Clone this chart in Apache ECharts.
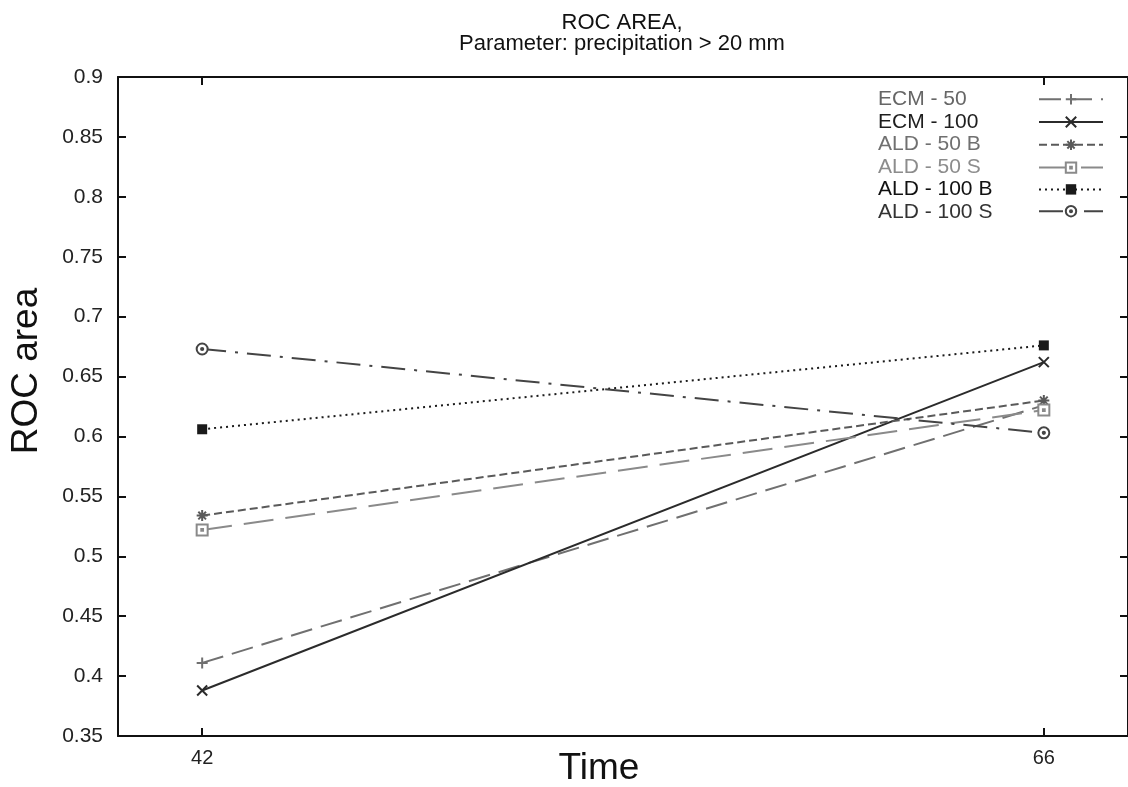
<!DOCTYPE html>
<html>
<head>
<meta charset="utf-8">
<script src="https://cdn.jsdelivr.net/npm/echarts@6/dist/echarts.min.js"></script>
<style>
  html, body { margin: 0; padding: 0; background: #fff; }
  #chart { width: 1128px; height: 787px; }
</style>
</head>
<body>
<div id="chart"></div>
<script>
// Forecast lead times (hours) and ROC area per configuration
const leadTimes = [42, 66];
const yTicks = { min: 0.35, max: 0.9, step: 0.05 };

const ecm50    = [0.411, 0.626];
const ecm100   = [0.388, 0.662];
const ald50B   = [0.534, 0.630];
const ald50S   = [0.522, 0.622];
const ald100B  = [0.606, 0.676];
const ald100S  = [0.673, 0.603];

const seriesNames = ['ECM - 50', 'ECM - 100', 'ALD - 50 B', 'ALD - 50 S', 'ALD - 100 B', 'ALD - 100 S'];
const seriesValues = [ecm50, ecm100, ald50B, ald50S, ald100B, ald100S];

const FONT = 'Liberation Sans, Arial, Helvetica, sans-serif';

// gnuplot-like point types
const SYM_PLUS = 'path://M5,0L5,10M0,5L10,5';
const SYM_CROSS = 'path://M0,0L10,10M10,0L0,10';
const SYM_STAR = 'path://M5,0L5,10M0,5L10,5M1.5,1.5L8.5,8.5M8.5,1.5L1.5,8.5';
const SYM_BOX_DOT = 'path://M0,0L10,0L10,10L0,10Z M4.2,4.2L5.8,4.2L5.8,5.8L4.2,5.8Z';
const SYM_CIRC_DOT = 'path://M10,5A5,5,0,1,1,0,5A5,5,0,1,1,10,5Z M6,5A1,1,0,1,1,4,5A1,1,0,1,1,6,5Z';

const styles = [
  { color: '#707070', text: '#666666', dash: [22, 9], symbol: SYM_PLUS, size: 11, fill: 'transparent' },
  { color: '#2b2b2b', text: '#1e1e1e', dash: 'solid', symbol: SYM_CROSS, size: 10, fill: 'transparent' },
  { color: '#5a5a5a', text: '#707070', dash: [8, 4], symbol: SYM_STAR, size: 11, fill: 'transparent' },
  { color: '#8a8a8a', text: '#8c8c8c', dash: [30, 12], symbol: SYM_BOX_DOT, size: 11, fill: '#ffffff' },
  { color: '#1a1a1a', text: '#111111', dash: [2, 4], symbol: 'rect', size: 10, fill: '#1a1a1a' },
  { color: '#444444', text: '#333333', dash: [24, 9, 3, 9], symbol: SYM_CIRC_DOT, size: 11, fill: '#ffffff' }
];

const series = seriesNames.map((name, i) => {
  const s = styles[i];
  return {
    name: name,
    type: 'line',
    xAxisIndex: 0,
    yAxisIndex: 0,
    data: leadTimes.map((t, k) => [t, seriesValues[i][k]]),
    symbol: s.symbol,
    symbolSize: s.size,
    showAllSymbol: true,
    lineStyle: { color: s.color, width: 2, type: s.dash },
    itemStyle: {
      color: s.fill,
      borderColor: s.color,
      borderWidth: s.symbol === 'rect' ? 0 : 2
    },
    emphasis: { disabled: true },
    animation: false,
    z: 3
  };
});

const axisLineStyle = { show: true, onZero: false, lineStyle: { color: '#111', width: 2 } };

const chart = echarts.init(document.getElementById('chart'), null, { renderer: 'canvas' });
chart.setOption({
  backgroundColor: '#ffffff',
  animation: false,
  textStyle: { fontFamily: FONT },
  grid: { left: 118, top: 77, right: -3, bottom: 51, containLabel: false },
  xAxis: [
    {
      type: 'value', position: 'bottom', min: 39.6, max: 68.4,
      axisLine: axisLineStyle,
      axisTick: { show: true, inside: true, length: 8, customValues: leadTimes, lineStyle: { color: '#111', width: 2 } },
      axisLabel: { show: true, customValues: leadTimes, fontSize: 20, color: '#222', margin: 12, fontFamily: FONT },
      splitLine: { show: false }
    },
    {
      type: 'value', position: 'top', min: 39.6, max: 68.4,
      axisLine: axisLineStyle,
      axisTick: { show: true, inside: true, length: 8, customValues: leadTimes, lineStyle: { color: '#111', width: 2 } },
      axisLabel: { show: false },
      splitLine: { show: false }
    }
  ],
  yAxis: [
    {
      type: 'value', position: 'left', min: yTicks.min, max: yTicks.max, interval: yTicks.step,
      axisLine: axisLineStyle,
      axisTick: { show: true, inside: true, length: 8, lineStyle: { color: '#111', width: 2 } },
      axisLabel: { show: true, fontSize: 21, color: '#222', margin: 15, fontFamily: FONT },
      splitLine: { show: false }
    },
    {
      type: 'value', position: 'right', min: yTicks.min, max: yTicks.max, interval: yTicks.step,
      axisLine: axisLineStyle,
      axisTick: { show: true, inside: true, length: 8, lineStyle: { color: '#111', width: 2 } },
      axisLabel: { show: false },
      splitLine: { show: false }
    }
  ],
  legend: [
    {
      // key labels
      orient: 'vertical', left: 871, top: 88, padding: 0,
      itemWidth: 1, itemHeight: 1, itemGap: 0,
      itemStyle: { opacity: 0 }, lineStyle: { opacity: 0 },
      textStyle: { fontSize: 21, lineHeight: 22.5, fontFamily: FONT },
      data: seriesNames.map((n, i) => ({ name: n, textStyle: { color: styles[i].text } })),
      selectedMode: false
    },
    {
      // key samples
      orient: 'vertical', left: 1038, top: 93, padding: 0,
      itemWidth: 64, itemHeight: 13, itemGap: 10.4,
      formatter: () => '',
      textStyle: { fontSize: 1, lineHeight: 13 },
      data: seriesNames,
      selectedMode: false
    }
  ],
  graphic: [
    {
      type: 'text', x: 622, y: 12, z: 10,
      style: {
        text: 'ROC AREA,\nParameter: precipitation > 20 mm',
        align: 'center', fontSize: 22, lineHeight: 21, fill: '#111', fontFamily: FONT
      }
    },
    {
      type: 'text', x: 27, y: 371, rotation: Math.PI / 2, z: 10,
      style: { text: 'ROC area', align: 'center', verticalAlign: 'middle', fontSize: 37, fill: '#111', fontFamily: FONT }
    },
    {
      type: 'text', x: 599, y: 769, z: 10,
      style: { text: 'Time', align: 'center', verticalAlign: 'middle', fontSize: 37, fill: '#111', fontFamily: FONT }
    }
  ],
  series: series
});
</script>
</body>
</html>
